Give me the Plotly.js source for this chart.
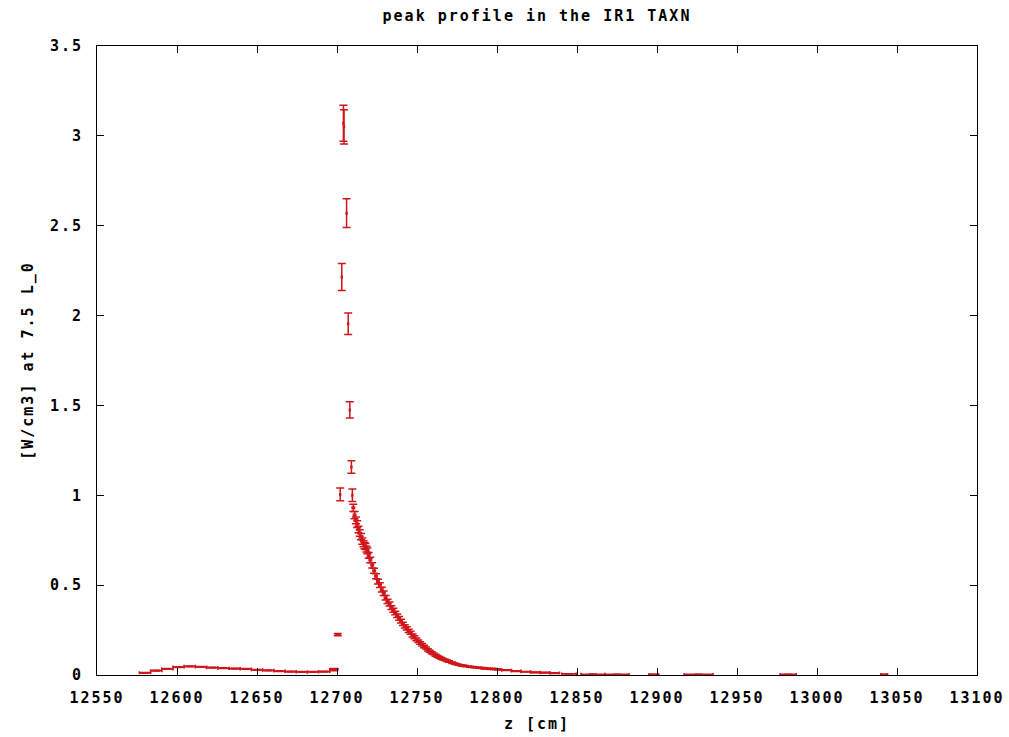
<!DOCTYPE html>
<html>
<head>
<meta charset="utf-8">
<script src="https://cdn.plot.ly/plotly-3.0.1.min.js"></script>
<style>
  html, body { margin: 0; padding: 0; background: #fff; }
  #chart { width: 1009px; height: 737px; }
  #chart text { letter-spacing: 2px; }
</style>
</head>
<body>
<div id="chart"></div>
<script>
// ---- data ----
// low-level plateau before the peak (wide bins)
const zLow      = [12580, 12587, 12594, 12601, 12608, 12615, 12622, 12629, 12636, 12643, 12650, 12657, 12664, 12671, 12678, 12685, 12692, 12698];
const pLow      = [0.012, 0.024, 0.034, 0.044, 0.048, 0.045, 0.041, 0.038, 0.036, 0.034, 0.029, 0.026, 0.022, 0.019, 0.017, 0.017, 0.019, 0.030];
const zLowHalf  = [3.5, 3.5, 3.5, 3.5, 3.5, 3.5, 3.5, 3.5, 3.5, 3.5, 3.5, 3.5, 3.5, 3.5, 3.5, 3.5, 3.5, 2.5];
const pLowErr   = [0.002, 0.002, 0.002, 0.002, 0.002, 0.002, 0.002, 0.002, 0.002, 0.002, 0.002, 0.002, 0.002, 0.002, 0.002, 0.002, 0.002, 0.006];

// sharp peak points
const zPeak     = [12700.5, 12702, 12703, 12704, 12704.4, 12706, 12707, 12708, 12709, 12709.6];
const pPeak     = [0.225, 1.005, 2.215, 3.07, 3.05, 2.57, 1.955, 1.475, 1.157, 1.0];
const zPeakHalf = [1.3, 0.2, 0.2, 0.2, 0.2, 0.2, 0.2, 0.2, 0.2, 0.2];
const pPeakErr  = [0.006, 0.035, 0.075, 0.10, 0.095, 0.08, 0.06, 0.045, 0.035, 0.035];

// decaying tail after the peak (dense bins)
const zTail = [12710.2, 12711.0, 12711.8, 12712.6, 12713.4, 12714.2, 12715.0, 12715.8, 12716.6, 12717.2,
               12717.8, 12718.4, 12719.0, 12719.8, 12720.8, 12722.0, 12723.2, 12724.4, 12725.6, 12726.8,
               12728.0, 12729.2, 12730.4, 12731.6, 12732.8, 12734.0, 12735.2, 12736.4, 12737.6, 12738.8,
               12740.0, 12741.2, 12742.4, 12743.6, 12744.8, 12746.0, 12747.2, 12748.4, 12749.6, 12750.8,
               12752.0, 12753.2, 12754.4, 12755.6, 12756.8, 12758.0, 12759.2, 12760.4, 12761.6, 12762.8,
               12764.0, 12765.2, 12766.4, 12767.6, 12768.8, 12770.0, 12772.0, 12774.0, 12776.0, 12778.0,
               12780.0, 12783.0, 12786.0, 12789.0, 12792.0, 12795.0, 12798.0, 12801.0];
const pTail = [0.930, 0.890, 0.860, 0.840, 0.810, 0.790, 0.770, 0.745, 0.730, 0.720,
               0.715, 0.700, 0.690, 0.665, 0.640, 0.610, 0.580, 0.550, 0.520, 0.500,
               0.475, 0.455, 0.430, 0.410, 0.395, 0.375, 0.360, 0.345, 0.330, 0.315,
               0.300, 0.285, 0.270, 0.260, 0.245, 0.235, 0.220, 0.210, 0.198, 0.188,
               0.178, 0.168, 0.158, 0.150, 0.140, 0.132, 0.124, 0.117, 0.110, 0.104,
               0.098, 0.093, 0.088, 0.083, 0.079, 0.075, 0.068, 0.062, 0.057, 0.053,
               0.050, 0.046, 0.043, 0.040, 0.037, 0.035, 0.033, 0.031];
const zTailHalf = 0.7;
const pTailErr = [0.020, 0.020, 0.019, 0.019, 0.018, 0.018, 0.018, 0.017, 0.017, 0.017,
                  0.017, 0.016, 0.016, 0.016, 0.015, 0.015, 0.014, 0.014, 0.013, 0.013,
                  0.013, 0.012, 0.012, 0.012, 0.011, 0.011, 0.011, 0.010, 0.010, 0.010,
                  0.010, 0.009, 0.009, 0.009, 0.009, 0.008, 0.008, 0.008, 0.008, 0.007,
                  0.007, 0.007, 0.007, 0.006, 0.006, 0.006, 0.006, 0.005, 0.005, 0.005,
                  0.005, 0.005, 0.004, 0.004, 0.004, 0.004, 0.004, 0.004, 0.003, 0.003,
                  0.003, 0.003, 0.003, 0.003, 0.003, 0.003, 0.003, 0.003];

// far tail (wide bins, almost zero)
const zFar     = [12806, 12812, 12818, 12824, 12830, 12836, 12845, 12860, 12875, 12898, 12926, 12982, 13042];
const pFar     = [0.027, 0.022, 0.018, 0.015, 0.013, 0.011, 0.006, 0.004, 0.003, 0.003, 0.003, 0.003, 0.003];
const zFarHalf = [3, 3, 3, 3, 3, 3, 4.5, 7.5, 7.5, 3, 9, 5, 2];
const pFarErr  = [0.002, 0.002, 0.002, 0.002, 0.002, 0.002, 0.001, 0.001, 0.001, 0.001, 0.001, 0.001, 0.001];

const xTickVals = [12550, 12600, 12650, 12700, 12750, 12800, 12850, 12900, 12950, 13000, 13050, 13100];
const yTickVals = [0, 0.5, 1, 1.5, 2, 2.5, 3, 3.5];
const yTickText = ['0', '0.5', '1', '1.5', '2', '2.5', '3', '3.5'];

// ---- build ----
const z = [].concat(zLow, zPeak, zTail, zFar);
const p = [].concat(pLow, pPeak, pTail, pFar);
const zHalf = [].concat(zLowHalf, zPeakHalf, zTail.map(() => zTailHalf), zFarHalf);
const pErr = [].concat(pLowErr, pPeakErr, pTailErr, pFarErr);

const red = '#d0161c';
const fontFam = '"DejaVu Sans Mono", "Liberation Mono", monospace';

const trace = {
  type: 'scatter',
  mode: 'markers',
  x: z,
  y: p,
  marker: { size: 1, color: red },
  error_y: { type: 'data', array: pErr, visible: true, color: red, thickness: 1.5, width: 4 },
  error_x: { type: 'data', array: zHalf, visible: true, color: red, thickness: 1.7, width: 1.5 },
  hoverinfo: 'x+y',
  showlegend: false
};

const axisFont = { family: fontFam, size: 15, color: '#000', weight: 'bold' };

const layout = {
  width: 1009,
  height: 737,
  paper_bgcolor: '#fff',
  plot_bgcolor: '#fff',
  margin: { l: 97, r: 32, t: 46, b: 62 },
  title: {
    text: 'peak profile in the IR1 TAXN',
    font: { family: fontFam, size: 15, color: '#000', weight: 'bold' },
    xref: 'paper', x: 0.5, xanchor: 'center',
    yref: 'container', y: 0.979, yanchor: 'middle'
  },
  xaxis: {
    range: [12550, 13100],
    tickvals: xTickVals,
    tickformat: 'd',
    ticks: 'inside', ticklen: 7, tickwidth: 1, tickcolor: '#000',
    showline: true, linecolor: '#000', linewidth: 1, mirror: 'ticks',
    showgrid: false, zeroline: false,
    tickfont: axisFont,
    ticklabelstandoff: 9,
    title: { text: 'z [cm]', font: axisFont, standoff: 12 }
  },
  yaxis: {
    range: [0, 3.5],
    tickvals: yTickVals,
    ticktext: yTickText,
    ticks: 'inside', ticklen: 7, tickwidth: 1, tickcolor: '#000',
    showline: true, linecolor: '#000', linewidth: 1, mirror: 'ticks',
    showgrid: false, zeroline: false,
    tickfont: axisFont,
    ticklabelstandoff: 10,
    title: { text: '[W/cm3] at 7.5 L_0', font: axisFont, standoff: 18 }
  }
};

Plotly.newPlot('chart', [trace], layout, { displayModeBar: false, staticPlot: true });
</script>
</body>
</html>
